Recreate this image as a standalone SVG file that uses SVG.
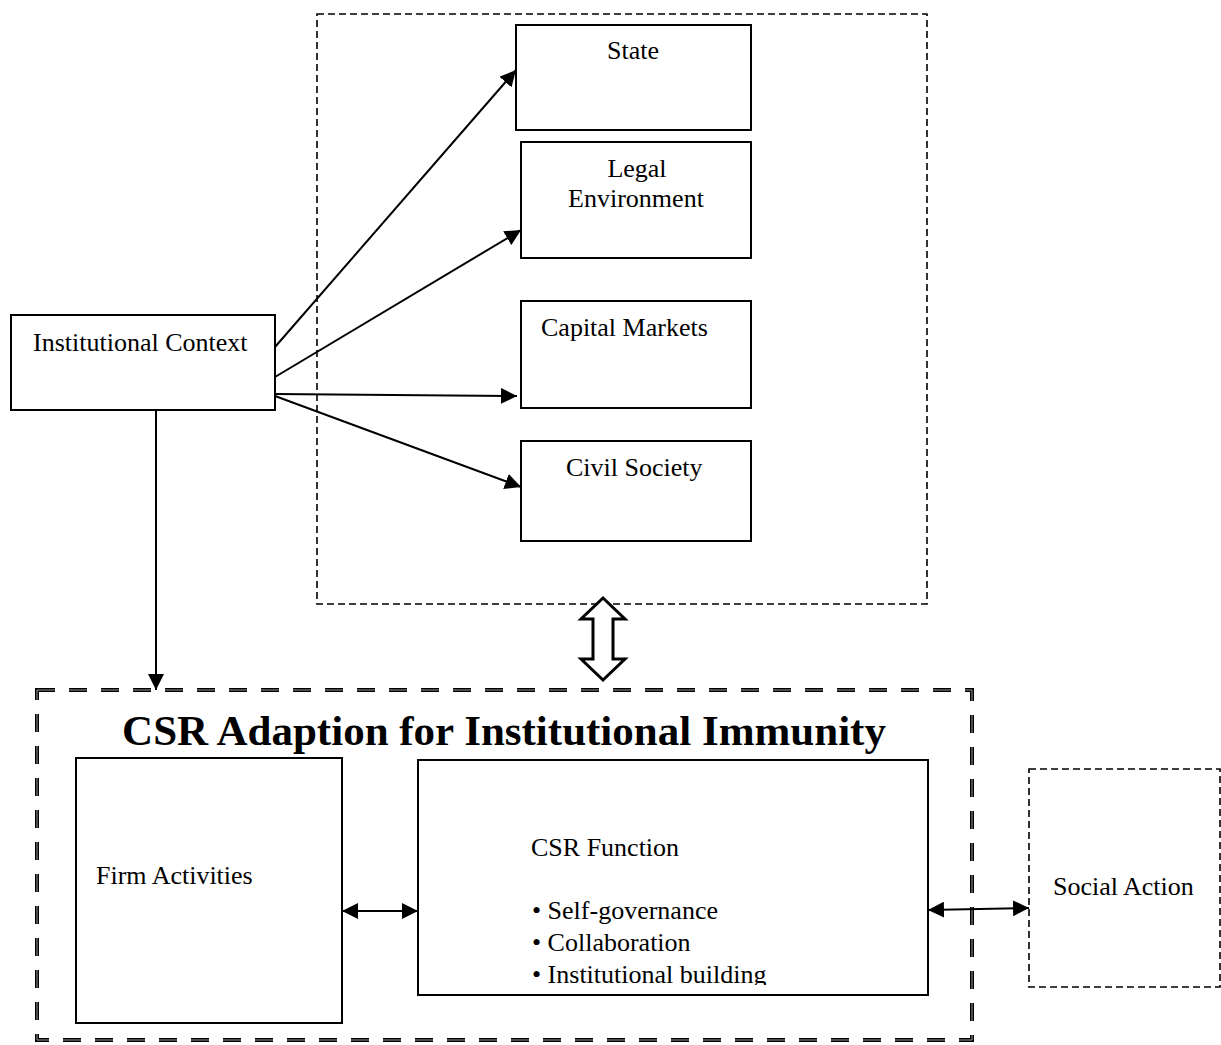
<svg xmlns="http://www.w3.org/2000/svg" width="1221" height="1045" viewBox="0 0 1221 1045">
<style>
text{font-family:"Liberation Serif","Times New Roman",serif;font-size:26px;fill:#000}
.box{fill:#fff;stroke:#000;stroke-width:2}
.dash{fill:none;stroke:#000;stroke-width:1.6;stroke-dasharray:7,4}
.conn{stroke:#000;stroke-width:2;fill:none}
</style>
<defs>
<marker id="ah" viewBox="0 0 10 10" refX="10" refY="5" markerWidth="16" markerHeight="16" markerUnits="userSpaceOnUse" orient="auto-start-reverse">
<path d="M0,0 L10,5 L0,10 z" fill="#000"/>
</marker>
<clipPath id="cfclip"><rect x="418" y="760" width="510" height="225"/></clipPath>
</defs>
<rect width="1221" height="1045" fill="#fff"/>

<g id="institutional-environment">
<rect class="dash" x="317" y="14" width="610" height="590"/>
</g>

<g id="state"><rect class="box" x="516" y="25" width="235" height="105"/><text x="633" y="59" text-anchor="middle">State</text></g>
<g id="legal"><rect class="box" x="521" y="142" width="230" height="116"/><text x="637" y="177" text-anchor="middle">Legal</text><text x="636" y="207" text-anchor="middle">Environment</text></g>
<g id="capital"><rect class="box" x="521" y="301" width="230" height="107"/><text x="541" y="336">Capital Markets</text></g>
<g id="civil"><rect class="box" x="521" y="441" width="230" height="100"/><text x="566" y="476">Civil Society</text></g>
<g id="context"><rect class="box" x="11" y="315" width="264" height="95"/><text x="33" y="351">Institutional Context</text></g>

<g id="csr-adaption">
<rect x="37" y="690" width="935" height="350" fill="none" stroke="#000" stroke-width="4" stroke-dasharray="18,14"/>
<rect x="37" y="690" width="935" height="350" fill="none" stroke="#999" stroke-width="1" stroke-dasharray="18,14"/>
<text x="504" y="745" text-anchor="middle" style="font-size:43px;font-weight:bold">CSR Adaption for Institutional Immunity</text>
</g>
<g id="firm"><rect class="box" x="76" y="758" width="266" height="265"/><text x="96" y="884">Firm Activities</text></g>
<g id="csr-function"><rect class="box" x="418" y="760" width="510" height="235"/>
<g clip-path="url(#cfclip)">
<text x="531" y="856">CSR Function</text>
<text x="532" y="919">• Self-governance</text>
<text x="532" y="951">• Collaboration</text>
<text x="532" y="983">• Institutional building</text>
</g></g>
<g id="social"><rect class="dash" x="1029" y="769" width="191" height="218"/><text x="1053" y="895">Social Action</text></g>

<g id="connectors">
<line class="conn" x1="275" y1="347" x2="516" y2="70" marker-end="url(#ah)"/>
<line class="conn" x1="275" y1="377" x2="521" y2="230" marker-end="url(#ah)"/>
<line class="conn" x1="275" y1="394" x2="517" y2="396" marker-end="url(#ah)"/>
<line class="conn" x1="275" y1="396" x2="521" y2="487" marker-end="url(#ah)"/>
<line class="conn" x1="156" y1="410" x2="156" y2="690" marker-end="url(#ah)"/>
<line class="conn" x1="342" y1="911" x2="418" y2="911" marker-start="url(#ah)" marker-end="url(#ah)"/>
<line class="conn" x1="928" y1="910" x2="1029" y2="908" marker-start="url(#ah)" marker-end="url(#ah)"/>
<path d="M603,598 L625,619 L613,619 L613,659 L625,659 L603,680 L581,659 L593,659 L593,619 L581,619 Z" fill="#fff" stroke="#000" stroke-width="3" stroke-linejoin="miter"/>
</g>
</svg>
